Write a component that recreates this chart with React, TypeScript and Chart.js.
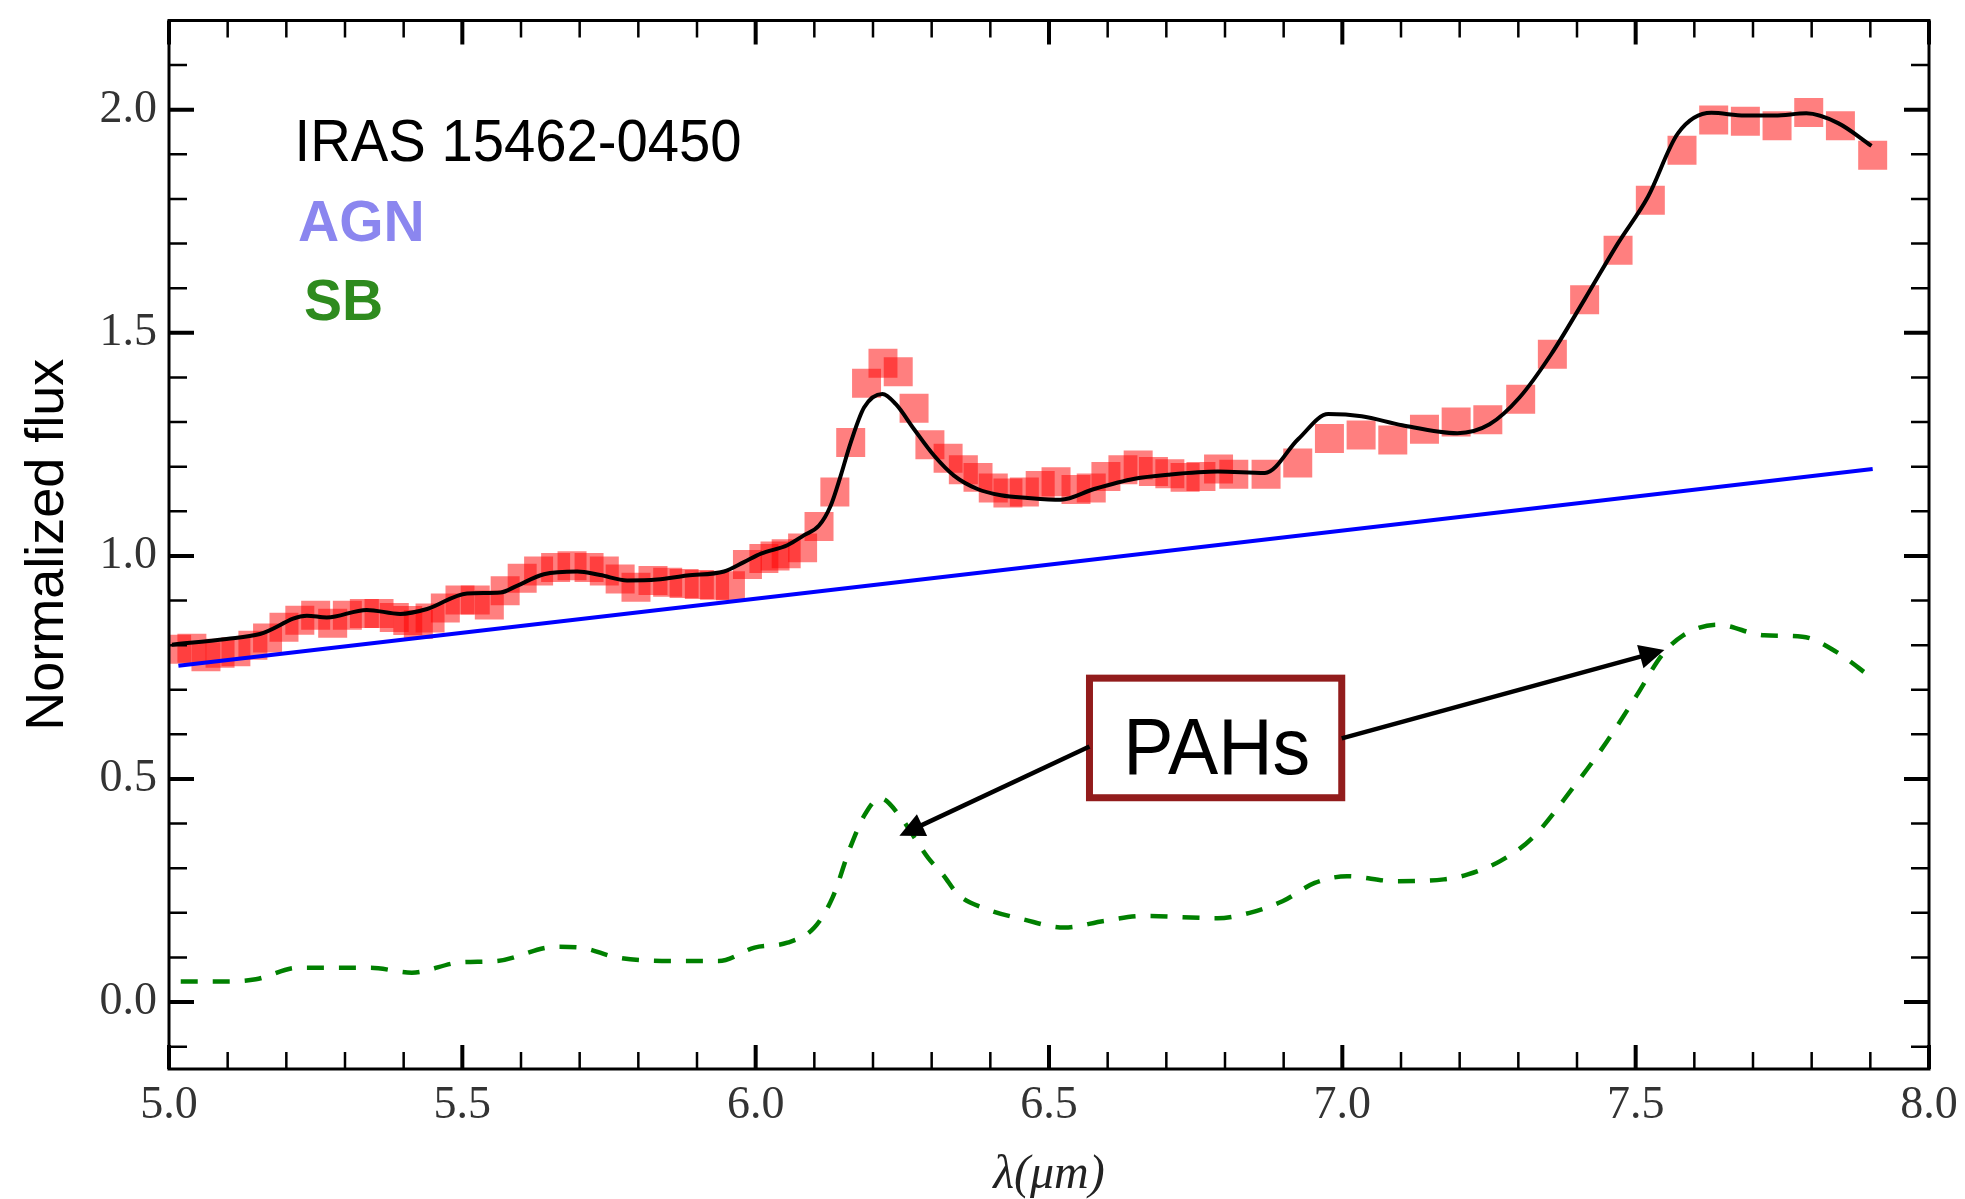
import React, { useEffect, useRef } from 'react';
import { Chart, registerables } from 'chart.js';

Chart.register(...registerables);

// ---------------- data ----------------
const obsWavelength = [
  5.013, 5.039, 5.063, 5.087, 5.114, 5.143, 5.168, 5.196, 5.223, 5.25, 5.279, 5.304, 5.333, 5.358,
  5.384, 5.407, 5.425, 5.445, 5.471, 5.496, 5.522, 5.546, 5.573, 5.602, 5.63, 5.659, 5.687, 5.716,
  5.742, 5.769, 5.796, 5.825, 5.85, 5.878, 5.904, 5.93, 5.957, 5.986, 6.014, 6.033, 6.052, 6.08,
  6.108, 6.135, 6.162, 6.189, 6.217, 6.243, 6.27, 6.297, 6.328, 6.354, 6.379, 6.405, 6.43, 6.458,
  6.485, 6.512, 6.546, 6.572, 6.597, 6.626, 6.652, 6.678, 6.706, 6.732, 6.759, 6.789, 6.815, 6.87,
  6.924, 6.978, 7.032, 7.086, 7.14, 7.194, 7.248, 7.304, 7.358, 7.413, 7.47, 7.525, 7.579, 7.633,
  7.687, 7.741, 7.795, 7.849, 7.904,
];
const obsFlux = [
  0.791, 0.793, 0.774, 0.782, 0.785, 0.8, 0.816, 0.84, 0.856, 0.867, 0.849, 0.867, 0.871, 0.871,
  0.862, 0.855, 0.846, 0.861, 0.883, 0.901, 0.901, 0.89, 0.922, 0.95, 0.966, 0.974, 0.978, 0.974,
  0.966, 0.948, 0.93, 0.945, 0.941, 0.938, 0.936, 0.934, 0.933, 0.981, 0.994, 1.0, 1.005, 1.018,
  1.066, 1.143, 1.254, 1.387, 1.432, 1.413, 1.331, 1.249, 1.219, 1.193, 1.176, 1.152, 1.141, 1.143,
  1.158, 1.166, 1.149, 1.152, 1.178, 1.193, 1.204, 1.189, 1.184, 1.176, 1.178, 1.195, 1.183, 1.183,
  1.208, 1.263, 1.271, 1.26, 1.284, 1.3, 1.305, 1.351, 1.452, 1.574, 1.685, 1.797, 1.909, 1.977,
  1.974, 1.964, 1.994, 1.964, 1.898,
];

const fitWavelength = [
  5.005, 5.098, 5.155, 5.235, 5.269, 5.337, 5.394, 5.44, 5.508, 5.565, 5.593, 5.639, 5.696, 5.735,
  5.781, 5.832, 5.883, 5.946, 5.98, 6.009, 6.054, 6.082, 6.108, 6.128, 6.145, 6.162, 6.185, 6.216,
  6.239, 6.27, 6.304, 6.338, 6.378, 6.418, 6.464, 6.52, 6.577, 6.646, 6.703, 6.788, 6.868, 6.925,
  6.976, 7.033, 7.102, 7.196, 7.251, 7.302, 7.356, 7.413, 7.47, 7.521, 7.572, 7.629, 7.686, 7.737,
  7.791, 7.845, 7.902,
];
const fitFlux = [
  0.801, 0.814, 0.825, 0.866, 0.862, 0.879, 0.87, 0.881, 0.916, 0.918, 0.933, 0.959, 0.965, 0.957,
  0.945, 0.947, 0.956, 0.965, 0.986, 1.005, 1.024, 1.046, 1.068, 1.113, 1.18, 1.254, 1.333, 1.363,
  1.34, 1.284, 1.225, 1.18, 1.15, 1.136, 1.13, 1.126, 1.15, 1.173, 1.182, 1.189, 1.186, 1.262,
  1.318, 1.313, 1.293, 1.275, 1.295, 1.355, 1.452, 1.575, 1.701, 1.805, 1.947, 1.993, 1.987, 1.987,
  1.992, 1.97, 1.919,
];

const agnWavelength = [5.016, 7.904];
const agnFlux = [0.754, 1.195];

const sbWavelength = [
  5.02, 5.097, 5.148, 5.22, 5.291, 5.343, 5.414, 5.496, 5.558, 5.66, 5.702, 5.763, 5.855, 5.937,
  5.998, 6.054, 6.1, 6.131, 6.161, 6.186, 6.212, 6.248, 6.271, 6.294, 6.319, 6.345, 6.388, 6.457,
  6.526, 6.594, 6.663, 6.787, 6.842, 6.898, 6.953, 7.008, 7.09, 7.173, 7.214, 7.269, 7.324, 7.393,
  7.451, 7.502, 7.545, 7.581, 7.639, 7.719, 7.784, 7.842, 7.9,
];
const sbFlux = [
  0.046, 0.046, 0.051, 0.077, 0.077, 0.077, 0.066, 0.089, 0.092, 0.124, 0.122, 0.1, 0.092, 0.092,
  0.122, 0.133, 0.167, 0.234, 0.346, 0.42, 0.457, 0.413, 0.368, 0.323, 0.286, 0.241, 0.211, 0.185,
  0.167, 0.182, 0.193, 0.188, 0.2, 0.226, 0.267, 0.282, 0.271, 0.275, 0.286, 0.316, 0.368, 0.48,
  0.584, 0.688, 0.778, 0.822, 0.846, 0.822, 0.819, 0.785, 0.729,
];

const xTickValues = [5.0, 5.5, 6.0, 6.5, 7.0, 7.5, 8.0];
const xTickLabels = ['5.0', '5.5', '6.0', '6.5', '7.0', '7.5', '8.0'];
const yTickValues = [0.0, 0.5, 1.0, 1.5, 2.0];
const yTickLabels = ['0.0', '0.5', '1.0', '1.5', '2.0'];
const xMinorTicks = [
  5.1, 5.2, 5.3, 5.4, 5.6, 5.7, 5.8, 5.9, 6.1, 6.2, 6.3, 6.4, 6.6, 6.7, 6.8, 6.9, 7.1, 7.2, 7.3,
  7.4, 7.6, 7.7, 7.8, 7.9,
];
const yMinorTicks = [
  -0.1, 0.1, 0.2, 0.3, 0.4, 0.6, 0.7, 0.8, 0.9, 1.1, 1.2, 1.3, 1.4, 1.6, 1.7, 1.8, 1.9, 2.1,
];

const X_MIN = 5.0;
const X_MAX = 8.0;
const Y_MIN = -0.15;
const Y_MAX = 2.2;

const xTitle = 'λ(μm)';
const yTitle = 'Normalized flux';
const sourceLabel = 'IRAS 15462-0450';
const agnLabel = 'AGN';
const sbLabel = 'SB';
const pahLabel = 'PAHs';

// annotation anchor positions (data coordinates)
const sourceLabelPos = { x: 5.214, y: 1.885 };
const agnLabelPos = { x: 5.22, y: 1.706 };
const sbLabelPos = { x: 5.23, y: 1.528 };
const pahBox = { x0: 6.569, x1: 6.999, y0: 0.458, y1: 0.726 };
const pahTextPos = { x: 6.786, y: 0.511 };
const arrowA = { from: { x: 6.569, y: 0.573 }, to: { x: 6.245, y: 0.373 } };
const arrowB = { from: { x: 6.999, y: 0.591 }, to: { x: 7.549, y: 0.789 } };

// ---------------- styles ----------------
const SANS = "'Liberation Sans', Arial, Helvetica, sans-serif";
const SERIF = "'Liberation Serif', 'Times New Roman', serif";

const zip = (xs: number[], ys: number[]) => xs.map((x, i) => ({ x, y: ys[i] }));

const drawArrow = (ctx: CanvasRenderingContext2D, x1: number, y1: number, x2: number, y2: number) => {
  const headLen = 25;
  const headHalf = 12;
  const ang = Math.atan2(y2 - y1, x2 - x1);
  const c = Math.cos(ang);
  const s = Math.sin(ang);
  const bx = x2 - headLen * c;
  const by = y2 - headLen * s;
  ctx.strokeStyle = '#000';
  ctx.lineWidth = 4.5;
  ctx.lineCap = 'butt';
  ctx.beginPath();
  ctx.moveTo(x1, y1);
  ctx.lineTo(bx + 2 * c, by + 2 * s);
  ctx.stroke();
  ctx.fillStyle = '#000';
  ctx.beginPath();
  ctx.moveTo(x2, y2);
  ctx.lineTo(bx - headHalf * s, by + headHalf * c);
  ctx.lineTo(bx + headHalf * s, by - headHalf * c);
  ctx.closePath();
  ctx.fill();
};

const overlayPlugin = {
  id: 'overlay',
  afterDatasetsDraw(chart: any) {
    const { ctx, chartArea, scales } = chart;
    const xs = scales.x;
    const ys = scales.y;
    const px = (v: number) => xs.getPixelForValue(v);
    const py = (v: number) => ys.getPixelForValue(v);
    const { left, right, top, bottom } = chartArea;

    ctx.save();

    // text labels
    ctx.textAlign = 'left';
    ctx.textBaseline = 'alphabetic';
    ctx.fillStyle = '#000';
    ctx.font = `60px ${SANS}`;
    ctx.fillText(sourceLabel, px(sourceLabelPos.x), py(sourceLabelPos.y), 447);
    ctx.font = `bold 57px ${SANS}`;
    ctx.fillStyle = '#8b86ef';
    ctx.fillText(agnLabel, px(agnLabelPos.x), py(agnLabelPos.y));
    ctx.fillStyle = '#2e8b1e';
    ctx.fillText(sbLabel, px(sbLabelPos.x), py(sbLabelPos.y));

    // PAHs box
    const bx0 = px(pahBox.x0);
    const bx1 = px(pahBox.x1);
    const by0 = py(pahBox.y1);
    const by1 = py(pahBox.y0);
    ctx.fillStyle = '#ffffff';
    ctx.fillRect(bx0, by0, bx1 - bx0, by1 - by0);
    ctx.strokeStyle = '#921c1c';
    ctx.lineWidth = 7;
    ctx.strokeRect(bx0, by0, bx1 - bx0, by1 - by0);
    ctx.fillStyle = '#000';
    ctx.textAlign = 'center';
    ctx.font = `80px ${SANS}`;
    ctx.fillText(pahLabel, px(pahTextPos.x), py(pahTextPos.y), 187);

    // arrows
    drawArrow(ctx, px(arrowA.from.x), py(arrowA.from.y), px(arrowA.to.x), py(arrowA.to.y));
    drawArrow(ctx, px(arrowB.from.x), py(arrowB.from.y), px(arrowB.to.x), py(arrowB.to.y));

    // frame
    ctx.strokeStyle = '#000';
    ctx.lineCap = 'butt';
    ctx.lineWidth = 3;
    ctx.strokeRect(left, top, right - left, bottom - top);

    // inward ticks
    const xTick = (v: number, len: number, w: number) => {
      const X = px(v);
      ctx.lineWidth = w;
      ctx.beginPath();
      ctx.moveTo(X, bottom);
      ctx.lineTo(X, bottom - len);
      ctx.moveTo(X, top);
      ctx.lineTo(X, top + len);
      ctx.stroke();
    };
    const yTick = (v: number, len: number, w: number) => {
      const Y = py(v);
      ctx.lineWidth = w;
      ctx.beginPath();
      ctx.moveTo(left, Y);
      ctx.lineTo(left + len, Y);
      ctx.moveTo(right, Y);
      ctx.lineTo(right - len, Y);
      ctx.stroke();
    };
    xTickValues.forEach((v) => xTick(v, 24, 4));
    xMinorTicks.forEach((v) => xTick(v, 17, 2.5));
    yTickValues.forEach((v) => yTick(v, 25, 4));
    yMinorTicks.forEach((v) => yTick(v, 18, 2.5));

    ctx.restore();
  },
};

export default function App() {
  const canvasRef = useRef<HTMLCanvasElement | null>(null);

  useEffect(() => {
    const canvas = canvasRef.current;
    if (!canvas) return;
    const chart = new Chart(canvas, {
      type: 'scatter',
      data: {
        datasets: [
          {
            label: 'fit',
            data: zip(fitWavelength, fitFlux),
            showLine: true,
            borderColor: '#000000',
            borderWidth: 4,
            pointRadius: 0,
            cubicInterpolationMode: 'monotone',
            order: 0,
            clip: 0,
          } as any,
          {
            label: 'AGN',
            data: zip(agnWavelength, agnFlux),
            showLine: true,
            borderColor: '#0000ff',
            borderWidth: 4,
            pointRadius: 0,
            order: 1,
            clip: 0,
          },
          {
            label: 'SB',
            data: zip(sbWavelength, sbFlux),
            showLine: true,
            borderColor: '#008000',
            borderWidth: 4.5,
            borderDash: [17, 15],
            pointRadius: 0,
            cubicInterpolationMode: 'monotone',
            order: 2,
            clip: 0,
          } as any,
          {
            label: 'observed',
            data: zip(obsWavelength, obsFlux),
            showLine: false,
            pointStyle: 'rect',
            pointRadius: 20.5,
            pointBackgroundColor: 'rgba(255,0,0,0.5)',
            pointBorderWidth: 0,
            order: 3,
            clip: 0,
          } as any,
        ],
      },
      options: {
        animation: false,
        responsive: false,
        devicePixelRatio: 1,
        events: [],
        layout: { padding: { top: 17, right: 36, left: 0, bottom: 0 } },
        plugins: {
          legend: { display: false },
          tooltip: { enabled: false },
        },
        scales: {
          x: {
            type: 'linear',
            min: X_MIN,
            max: X_MAX,
            grid: { display: false, drawTicks: false },
            border: { display: false },
            afterBuildTicks: (scale: any) => {
              scale.ticks = xTickValues.map((v) => ({ value: v }));
            },
            afterFit: (scale: any) => {
              scale.height = 130;
              scale.paddingLeft = 0;
              scale.paddingRight = 0;
            },
            ticks: {
              autoSkip: false,
              maxRotation: 0,
              padding: 9,
              color: '#333333',
              font: { family: SERIF, size: 46, lineHeight: 1.2 },
              callback: (v: any) => {
                const i = xTickValues.findIndex((t) => Math.abs(t - Number(v)) < 1e-9);
                return i >= 0 ? xTickLabels[i] : '';
              },
            },
            title: {
              display: true,
              text: xTitle,
              color: '#222222',
              font: { family: SERIF, size: 48, style: 'italic', lineHeight: 1.0 },
              padding: { top: 0, bottom: 0 },
            },
          },
          y: {
            type: 'linear',
            min: Y_MIN,
            max: Y_MAX,
            grid: { display: false, drawTicks: false },
            border: { display: false },
            afterBuildTicks: (scale: any) => {
              scale.ticks = yTickValues.map((v) => ({ value: v }));
            },
            afterFit: (scale: any) => {
              scale.width = 169;
              scale.paddingTop = 0;
              scale.paddingBottom = 0;
            },
            ticks: {
              autoSkip: false,
              padding: 12,
              color: '#333333',
              font: { family: SERIF, size: 46, lineHeight: 1.2 },
              callback: (v: any) => {
                const i = yTickValues.findIndex((t) => Math.abs(t - Number(v)) < 1e-9);
                return i >= 0 ? yTickLabels[i] : '';
              },
            },
            title: {
              display: true,
              text: yTitle,
              color: '#000000',
              font: { family: SANS, size: 54, lineHeight: 1.2 },
              padding: { top: 16, bottom: 0 },
            },
          },
        },
      } as any,
      plugins: [overlayPlugin],
    });
    return () => chart.destroy();
  }, []);

  return (
    <div
      style={{
        position: 'absolute',
        left: 0,
        top: 0,
        width: 1965,
        height: 1199,
        background: '#ffffff',
      }}
    >
      <canvas ref={canvasRef} width={1965} height={1199} style={{ display: 'block' }} />
    </div>
  );
}
